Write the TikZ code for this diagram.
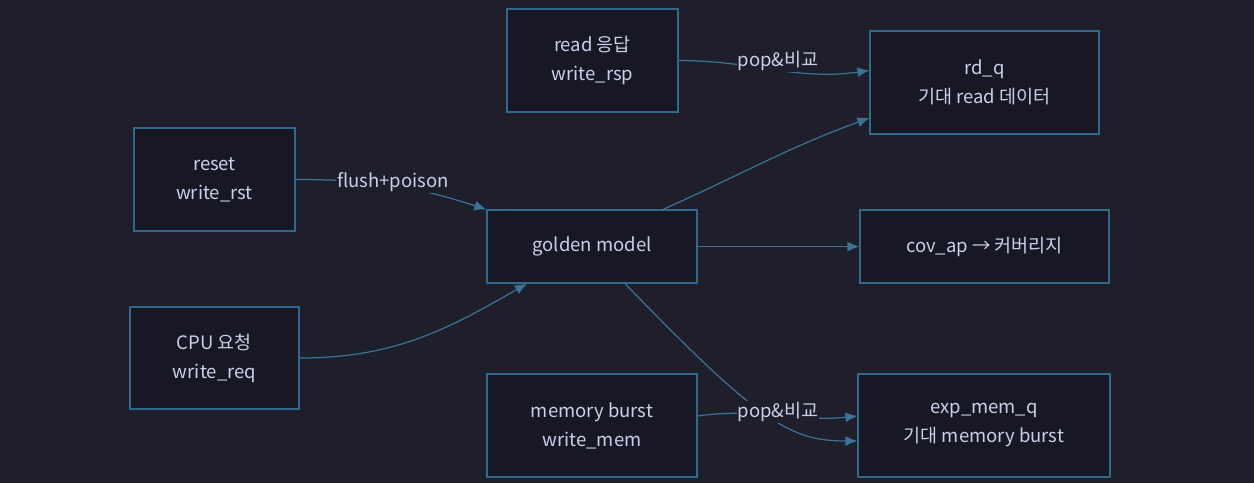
\documentclass[tikz,border=0pt]{standalone}
\usepackage{fontspec}
\setmainfont{Noto Sans CJK KR}
\usepackage{tikz}
\usetikzlibrary{arrows.meta,positioning}
\definecolor{bgcol}{HTML}{1F1F2C}
\definecolor{boxfill}{HTML}{181824}
\definecolor{boxline}{HTML}{2E6A8C}
\definecolor{linkcol}{HTML}{3A7494}
\definecolor{txtcol}{HTML}{CAD0EA}
\tikzset{%
	box/.style     = {draw=boxline, fill=boxfill, line width=1.2pt, rectangle, align=center, text=txtcol, font=\fontsize{18.5}{29}\selectfont},
	edgelbl/.style = {fill=bgcol, inner sep=1pt, text=txtcol, font=\fontsize{18.5}{21}\selectfont},
	link/.style    = {draw=linkcol, line width=1.2pt},
	arrow/.style   = {link, -{Latex[length=12pt,width=10pt]}},
}

\begin{document}
\begin{tikzpicture}[x=1pt,y=1pt]
	\fill[bgcol] (0,0) rectangle (1254,-483);
	\useasboundingbox (0,0) rectangle (1254,-483);
	
	\node[box, minimum width=171pt, minimum height=103pt] (rsp) at (592.5,-60.5) {read 응답\\write\_rsp};
	\node[box, minimum width=229pt, minimum height=103pt] (rdq) at (984.5,-82.5) {rd\_q\\기대 read 데이터};
	\node[box, minimum width=161pt, minimum height=103pt] (rst) at (214.5,-179.5) {reset\\write\_rst};
	\node[box, minimum width=210pt, minimum height=73pt] (gm) at (592,-246.5) {golden model};
	\node[box, minimum width=249pt, minimum height=73pt] (cov) at (984.5,-246.5) {cov\_ap → 커버리지};
	\node[box, minimum width=169pt, minimum height=102pt] (req) at (214.5,-358) {CPU 요청\\write\_req};
	\node[box, minimum width=210pt, minimum height=103pt] (mem) at (592,-425.5) {memory burst\\write\_mem};
	\node[box, minimum width=252pt, minimum height=103pt] (exp) at (984,-425.5) {exp\_mem\_q\\기대 memory burst};
	
	\draw[arrow] (rsp.east) to[out=0, in=188] ([yshift=12pt]rdq.west);
	\draw[arrow] (rst.east) to[out=0, in=162] (gm.north west);
	\draw[arrow] (req.east) to[out=0, in=210] ([xshift=-65pt]gm.south);
	\draw[arrow] ([xshift=71pt]gm.north) to[out=24, in=200] ([yshift=-35.5pt]rdq.west);
	\draw[arrow] (gm.east) -- (cov.west);
	\draw[arrow] ([xshift=33pt]gm.south) .. controls (760,-423) and (790,-441) .. ([yshift=-15.5pt]exp.west);
	\draw[arrow] ([yshift=9.5pt]mem.east) to[out=8, in=186] ([yshift=9.5pt]exp.west);
	
	\node[edgelbl] (lblrsp) at (778,-61) {pop\&비교};
	\node[edgelbl] (lblrst) at (393,-182) {flush+poison};
	\node[edgelbl] (lblmem) at (778,-412) {pop\&비교};
\end{tikzpicture}
\end{document}
